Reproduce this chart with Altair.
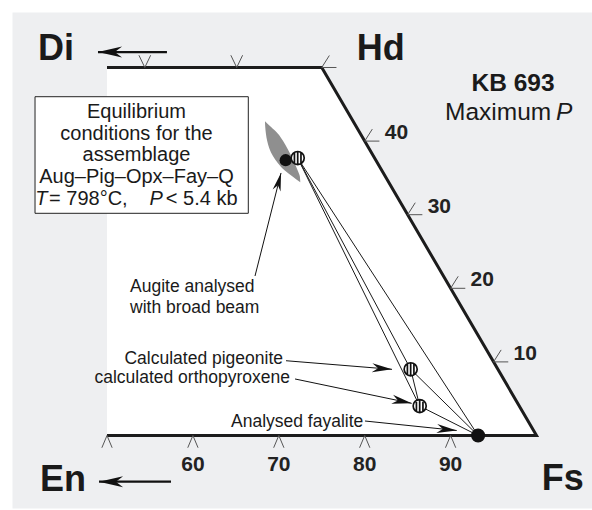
import math
import altair as alt
import pandas as pd

# ---------------- data (compositions in mol %) ----------------
mineral_names = ["Augite (broad beam)", "Augite", "Pigeonite", "Orthopyroxene", "Fayalite"]
mineral_fs = [52.1, 53.35, 80.85, 84.4, 93.2]
mineral_wo = [37.4, 37.7, 9.0, 4.0, 0.0]
mineral_symbol = ["solid", "hatched", "hatched", "hatched", "solid"]

tie_from = ["Augite", "Augite", "Augite", "Pigeonite", "Pigeonite", "Orthopyroxene"]
tie_to = ["Pigeonite", "Orthopyroxene", "Fayalite", "Orthopyroxene", "Fayalite", "Fayalite"]

# broad-beam augite uncertainty field (diagram X, Wo)
lens_wo = [42.7, 41.9, 41.0, 40.0, 39.0, 38.0, 37.0, 36.0, 35.2, 34.4]
lens_left = [68.39, 68.42, 68.5, 68.65, 68.9, 69.3, 69.9, 70.7, 71.6, 72.5]
lens_right = [68.39, 69.1, 69.9, 70.5, 71.0, 71.45, 71.85, 72.2, 72.45, 72.5]

fs_ticks = [50, 60, 70, 80, 90]
fs_tick_labels = ["", "60", "70", "80", "90"]
top_ticks_fs = [29.4, 40.1]
wo_ticks = [50, 40, 30, 20, 10]
wo_tick_labels = ["", "40", "30", "20", "10"]

XMIN, XMAX = 38.94, 106.46
YMIN, YMAX = -9.85, 57.54
W, H = 580, 496
XS = W / (XMAX - XMIN)
YS = H / (YMAX - YMIN)

FONT = "Liberation Sans"


def dx(fs, wo):
    return fs + wo / 2.0


xsc = alt.Scale(domain=[XMIN, XMAX], nice=False, zero=False)
ysc = alt.Scale(domain=[YMIN, YMAX], nice=False, zero=False)
X = lambda f="x": alt.X(f"{f}:Q", scale=xsc, axis=None)
Y = lambda f="y": alt.Y(f"{f}:Q", scale=ysc, axis=None)

layers = []

# white quadrilateral field
quad = pd.DataFrame({"y": [0, 50], "x": [50, 50], "x2": [dx(100, 0), dx(50, 50)]})
layers.append(alt.Chart(quad).mark_area(orient="horizontal", color="white").encode(
    y=Y(), x=X(), x2="x2:Q"))

# border Di-Hd-Fs-En
border = pd.DataFrame({"x": [dx(25, 50), dx(50, 50), dx(100, 0), dx(0, 0) + 50],
                       "y": [50, 50, 0, 0], "o": [0, 1, 2, 3]})
layers.append(alt.Chart(border).mark_line(color="#1c1c1c", strokeWidth=3, strokeJoin="miter").encode(
    x=X(), y=Y(), order="o:Q"))

# ticks
tick_col = "#555555"
bt = pd.DataFrame({"x": [dx(f, 0) for f in fs_ticks], "y": [0] * len(fs_ticks), "lab": fs_tick_labels})
layers.append(alt.Chart(bt).mark_point(shape="M -0.42 1 L 0 0 L 0.42 1", size=600, filled=False,
                                       stroke=tick_col, strokeWidth=1, opacity=1).encode(x=X(), y=Y()))
layers.append(alt.Chart(bt).mark_text(font=FONT, fontSize=21, fontWeight="bold", color="#222",
                                      baseline="alphabetic", dy=35).encode(x=X(), y=Y(), text="lab:N"))
tt = pd.DataFrame({"x": [dx(f, 50) for f in top_ticks_fs], "y": [50] * len(top_ticks_fs)})
layers.append(alt.Chart(tt).mark_point(shape="M -0.48 -1 L 0 0 L 0.48 -1", size=600, filled=False,
                                       stroke=tick_col, strokeWidth=1, opacity=1).encode(x=X(), y=Y()))
rt = pd.DataFrame({"x": [dx(100 - w, w) for w in wo_ticks], "y": wo_ticks, "lab": wo_tick_labels})
layers.append(alt.Chart(rt).mark_point(shape="M 0.62 -0.98 L 0 0 L 1.2 0", size=600, filled=False,
                                       stroke=tick_col, strokeWidth=1, opacity=1).encode(x=X(), y=Y()))
layers.append(alt.Chart(rt).mark_text(font=FONT, fontSize=21, fontWeight="bold", color="#222",
                                      align="left", baseline="alphabetic", dx=20, dy=-2).encode(
    x=X(), y=Y(), text="lab:N"))

# uncertainty lens
lens = pd.DataFrame({"y": lens_wo, "x": lens_left, "x2": lens_right})
layers.append(alt.Chart(lens).mark_area(orient="horizontal", color="#8f8f8f", interpolate="monotone").encode(
    y=Y(), x=X(), x2="x2:Q"))

# tie lines
pos = {n: (dx(f, w), w) for n, f, w in zip(mineral_names, mineral_fs, mineral_wo)}
ties = pd.DataFrame({"x": [pos[a][0] for a in tie_from], "y": [pos[a][1] for a in tie_from],
                     "x2": [pos[b][0] for b in tie_to], "y2": [pos[b][1] for b in tie_to]})
layers.append(alt.Chart(ties).mark_rule(color="#1a1a1a", strokeWidth=1).encode(
    x=X(), y=Y(), x2="x2:Q", y2="y2:Q"))

# mineral symbols
mins = pd.DataFrame({"name": mineral_names, "x": [dx(f, w) for f, w in zip(mineral_fs, mineral_wo)],
                     "y": mineral_wo, "sym": mineral_symbol})
solid = mins[mins.sym == "solid"].copy()
solid["size"] = [150, 200]
layers.append(alt.Chart(solid).mark_point(shape="circle", filled=True, color="#111", opacity=1).encode(
    x=X(), y=Y(), size=alt.Size("size:Q", scale=None)))
hatch_path = ("M -1 0 A 1 1 0 1 1 1 0 A 1 1 0 1 1 -1 0 Z "
              "M -0.5 -0.86 L -0.5 0.86 M 0 -1 L 0 1 M 0.5 -0.86 L 0.5 0.86")
layers.append(alt.Chart(mins[mins.sym == "hatched"]).mark_point(
    shape=hatch_path, size=170, filled=True, fill="white", stroke="#111", strokeWidth=1.7, opacity=1).encode(
    x=X(), y=Y()))

# annotation arrows (diagram X, Wo)
arr_x0 = [67.23, 70.84, 71.89, 80.03, 56.98, 57.45]
arr_y0 = [21.67, 10.16, 7.68, 1.97, 52.1, -6.28]
arr_x1 = [70.26, 83.18, 85.47, 90.71, 48.95, 49.07]
arr_y1 = [35.67, 8.99, 4.37, 0.68, 52.1, -6.28]
arr_size = [330, 400, 400, 400, 580, 580]
arr_w = [1.0, 1.0, 1.0, 1.0, 2.2, 2.2]
ang = []
for a, b, c, d in zip(arr_x0, arr_y0, arr_x1, arr_y1):
    dxp = (c - a) * XS
    dyp = -(d - b) * YS
    ang.append(math.degrees(math.atan2(dxp, -dyp)) % 360)
arrows = pd.DataFrame({"x": arr_x0, "y": arr_y0, "x2": arr_x1, "y2": arr_y1, "ang": ang,
                       "size": arr_size, "w": arr_w})
layers.append(alt.Chart(arrows).mark_rule(color="#111").encode(
    x=X(), y=Y(), x2="x2:Q", y2="y2:Q", strokeWidth=alt.StrokeWidth("w:Q", scale=None)))
layers.append(alt.Chart(arrows).mark_point(shape="M 0 0 L 0.45 2 L 0 1.4 L -0.45 2 Z", filled=True,
                                           color="#111", opacity=1).encode(
    x=alt.X("x2:Q", scale=xsc, axis=None), y=alt.Y("y2:Q", scale=ysc, axis=None),
    angle=alt.Angle("ang:Q", scale=None), size=alt.Size("size:Q", scale=None)))

# info box
box = pd.DataFrame({"x": [41.62], "x2": [66.45], "y": [46.03], "y2": [30.19]})
layers.append(alt.Chart(box).mark_rect(fill="white", stroke="#222", strokeWidth=1).encode(
    x=X(), x2="x2:Q", y=Y(), y2="y2:Q"))


def text_layer(items, size, weight="normal", style="normal", align="left", color="#1a1a1a"):
    df = pd.DataFrame(items, columns=["t", "x", "y"])
    return alt.Chart(df).mark_text(font=FONT, fontSize=size, fontWeight=weight, fontStyle=style,
                                   align=align, baseline="alphabetic", color=color).encode(
        x=X(), y=Y(), text="t:N")


box_lines = [("Equilibrium", 53.43, 43.15), ("conditions for the", 53.43, 40.2),
             ("assemblage", 53.43, 37.25), ("Aug\u2013Pig\u2013Opx\u2013Fay\u2013Q", 53.43, 34.3)]
layers.append(text_layer(box_lines, 20, align="center"))
layers.append(text_layer([("T", 41.65, 31.3), ("P", 54.95, 31.3)], 20, style="italic"))
layers.append(text_layer([("= 798\u00b0C,", 43.25, 31.3), ("< 5.4 kb", 56.85, 31.3)], 20))

# notes
layers.append(text_layer([("Augite analysed", 52.68, 19.54), ("with broad beam", 52.68, 16.68)], 17.5))
layers.append(text_layer([("Calculated pigeonite", 70.49, 9.67),
                          ("calculated orthopyroxene", 71.3, 7.09),
                          ("Analysed fayalite", 79.84, 1.11)], 17.5, align="right"))

# end members
layers.append(text_layer([("Di", 41.97, 51.02), ("Hd", 79.07, 51.02),
                          ("En", 42.2, -7.54), ("Fs", 100.6, -7.4)], 36, weight="bold"))
layers.append(text_layer([("KB 693", 97.26, 46.85)], 24.5, weight="bold", align="center"))
layers.append(text_layer([("Maximum", 89.35, 42.87)], 24.5))
layers.append(text_layer([("P", 102.27, 42.87)], 24.5, style="italic"))

chart = alt.layer(*layers).properties(
    width=W, height=H, autosize=alt.AutoSizeParams(type="none"),
    padding={"left": 12, "top": 12, "right": 0, "bottom": 2}, background="white"
).configure_view(fill="#eeeff1", stroke="transparent")

chart.save("out.html", embed_options={"renderer": "svg", "actions": False})
